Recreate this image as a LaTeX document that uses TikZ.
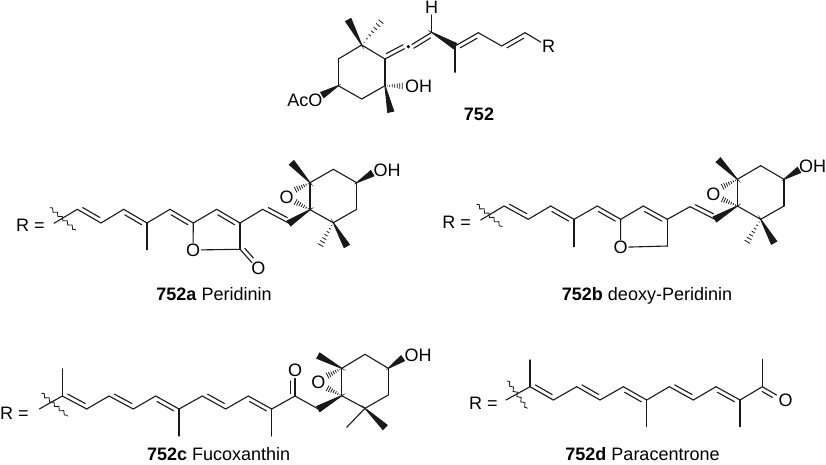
\documentclass[tikz,border=0pt]{standalone}
\usepackage{fontspec}
\setmainfont{Liberation Sans}
\usetikzlibrary{calc, decorations.pathmorphing}

\tikzset{
  atom/.style={inner sep=1pt,font=\fontsize{18}{21}\selectfont},
  lbl/.style={inner sep=0pt,anchor=base,font=\fontsize{18}{21}\selectfont},
  dot/.style={circle,fill=black,inner sep=1.3pt,outer sep=2.5pt},
  bond/.style={line width=1.1pt,line cap=round,color=black!90},
  dblL/.style={to path={(\tikztostart) -- (\tikztotarget)
    ($(\tikztostart)!.14!(\tikztotarget)!4.2pt!90:(\tikztotarget)$) --
    ($(\tikztotarget)!.14!(\tikztostart)!4.2pt!-90:(\tikztostart)$)}},
  dblR/.style={to path={(\tikztostart) -- (\tikztotarget)
    ($(\tikztostart)!.14!(\tikztotarget)!4.2pt!-90:(\tikztotarget)$) --
    ($(\tikztotarget)!.14!(\tikztostart)!4.2pt!90:(\tikztostart)$)}},
  wedge/.style={fill=black!90,to path={-- ($(\tikztotarget)!3pt!90:(\tikztostart)$)
    -- ($(\tikztotarget)!3pt!-90:(\tikztostart)$) -- cycle}},
  hash/.style={line width=.8pt,to path={foreach \pos in {.12,.26,...,1.0} {
    ($(\tikztostart)!\pos!(\tikztotarget)!\pos*3pt!90:(\tikztotarget)$) --
    ($(\tikztostart)!\pos!(\tikztotarget)!\pos*3pt!-90:(\tikztotarget)$)}}},
  wavy/.style={line width=.8pt,decorate,decoration={snake,amplitude=1.5pt,segment length=6.5pt}}
}

\begin{document}
\begin{tikzpicture}[x=1pt,y=-1pt]
\useasboundingbox (0,0) rectangle (826,464);

% 752
\coordinate (p1) at (361.7,45);
\coordinate (p2) at (338.3,59);
\coordinate (p3) at (338.3,85.7);
\coordinate (p4) at (361.7,99);
\coordinate (p5) at (385,85.7);
\coordinate (p6) at (385,59);
\coordinate (p7) at (348.3,20);
\coordinate (p8) at (381.7,20.7);
\coordinate (p9) at (431.7,32.3);
\coordinate (p10) at (455,46);
\coordinate (p11) at (455,72.3);
\coordinate (p12) at (478.3,32.7);
\coordinate (p13) at (501.7,46);
\coordinate (p14) at (525,32.7);
\coordinate (p15) at (390.7,111.7);
\coordinate (p16) at (322.3,95);
\coordinate (p17) at (403,86);
\node[dot] (pdot) at (408.3,46.7) {};
\node[atom] (pH) at (431.7,7.5) {H};
\node[atom] (pR) at (548.5,46.7) {R};
\node[atom,anchor=west,inner sep=0pt] (pOH) at (405,86.7) {OH};
\node[atom,anchor=east,inner sep=0pt] (pAcO) at (322.5,100) {AcO};
\node[lbl] (pname) at (479,120) {\textbf{752}};

\path[bond]
(p1) edge (p2) (p2) edge (p3) (p3) edge (p4) (p4) edge (p5) (p5) edge (p6) (p6) edge (p1)
(p1) edge[wedge] (p7)
(p1) edge[hash] (p8)
(p6) edge[dblL] (pdot)
(pdot) edge[dblR] (p9)
(p9) edge (pH)
(p9) edge[wedge] (p10)
(p10) edge (p11)
(p10) edge[dblR] (p12)
(p12) edge (p13)
(p13) edge[dblR] (p14)
(p14) edge (pR)
(p5) edge[hash] (p17)
(p5) edge[wedge] (p15)
(p3) edge[wedge] (p16)
;

% 752a
\coordinate (a1) at (54,223.3);
\coordinate (a2) at (77.3,209.3);
\coordinate (a3) at (101,223);
\coordinate (a4) at (123.7,209.3);
\coordinate (a5) at (147,223);
\coordinate (a6) at (147,249.7);
\coordinate (a7) at (170,209.3);
\coordinate (a8) at (193.3,223);
\coordinate (a9) at (216.7,209.3);
\coordinate (a10) at (240,223);
\coordinate (a11) at (240,249.3);
\coordinate (a12) at (252,262.7);
\coordinate (a13) at (262.7,209.3);
\coordinate (a14) at (289,223.3);
\coordinate (a15) at (310,209.7);
\coordinate (a16) at (310,182.7);
\coordinate (a17) at (291.7,162.7);
\coordinate (a18) at (333.3,169.3);
\coordinate (a19) at (356.7,182.7);
\coordinate (a20) at (356.7,209.3);
\coordinate (a21) at (333.3,222.7);
\coordinate (a22) at (346.7,246);
\coordinate (a23) at (320,246);
\coordinate (a24) at (372.3,173.3);
\coordinate (a25) at (295,190);
\coordinate (a26) at (295,201.7);
\coordinate (aw1) at (50,207.7);
\coordinate (aw2) at (75.7,230);
\node[atom] (aR) at (30.5,225.7) {R =};
\node[atom] (aO1) at (193,250) {O};
\node[atom] (aO2) at (258.3,268.3) {O};
\node[atom] (aO3) at (286.7,197.3) {O};
\node[atom,anchor=west,inner sep=0pt] (aOH) at (373.3,170) {OH};
\node[lbl] (aname) at (214,300.7) {\textbf{752a} Peridinin};

\path[bond]
(a1) edge (a2)
(aw1) edge[wavy] (aw2)
(a2) edge[dblL] (a3)
(a3) edge (a4)
(a4) edge[dblR] (a5)
(a5) edge (a6)
(a5) edge (a7)
(a7) edge[dblR] (a8)
(a8) edge (aO1)
(aO1) edge (a11)
(a8) edge (a9)
(a9) edge[dblR] (a10)
(a10) edge (a11)
(a11) edge[dblL] (a12)
(a10) edge (a13)
(a13) edge[dblL] (a14)
(a15) edge[wedge] (a14)
(a15) edge (a16)
(a16) edge[wedge] (a17)
(a16) edge (a18) (a18) edge (a19) (a19) edge (a20) (a20) edge (a21) (a21) edge (a15)
(a21) edge[wedge] (a22)
(a21) edge[hash] (a23)
(a19) edge[wedge] (a24)
(a16) edge[hash] (a25)
(a15) edge[hash] (a26)
;

% 752b
\coordinate (b1) at (480.7,220);
\coordinate (b2) at (504,206);
\coordinate (b3) at (528.3,219.3);
\coordinate (b4) at (550.7,206);
\coordinate (b5) at (574,219.3);
\coordinate (b6) at (574,246.7);
\coordinate (b7) at (597.3,206);
\coordinate (b8) at (620.7,219.3);
\coordinate (b9) at (643.3,206);
\coordinate (b10) at (667.3,219.3);
\coordinate (b11) at (667.3,246);
\coordinate (b12) at (690,206.7);
\coordinate (b13) at (715,219.3);
\coordinate (b14) at (737.3,206);
\coordinate (b15) at (737.3,179.3);
\coordinate (b16) at (718.3,160);
\coordinate (b17) at (760.7,165.7);
\coordinate (b18) at (784,179.3);
\coordinate (b19) at (784,206);
\coordinate (b20) at (760.7,219.3);
\coordinate (b21) at (774,242.7);
\coordinate (b22) at (746.7,242.7);
\coordinate (b23) at (799,170);
\coordinate (b24) at (722,187);
\coordinate (b25) at (722,199);
\coordinate (bw1) at (476.7,204.3);
\coordinate (bw2) at (502.3,226.7);
\node[atom] (bR) at (456.7,222.3) {R =};
\node[atom] (bO1) at (620.5,247.3) {O};
\node[atom] (bO2) at (713.3,194) {O};
\node[atom,anchor=west,inner sep=0pt] (bOH) at (798.8,166.7) {OH};
\node[lbl] (bname) at (647,300.7) {\textbf{752b} deoxy-Peridinin};

\path[bond]
(b1) edge (b2)
(bw1) edge[wavy] (bw2)
(b2) edge[dblL] (b3)
(b3) edge (b4)
(b4) edge[dblR] (b5)
(b5) edge (b6)
(b5) edge (b7)
(b7) edge[dblR] (b8)
(b8) edge (bO1)
(b8) edge (b9)
(b9) edge[dblR] (b10)
(b10) edge (b11)
(b11) edge (bO1)
(b10) edge (b12)
(b12) edge[dblL] (b13)
(b14) edge[wedge] (b13)
(b14) edge (b15)
(b15) edge[wedge] (b16)
(b15) edge (b17) (b17) edge (b18) (b18) edge (b19) (b19) edge (b20) (b20) edge (b14)
(b20) edge[wedge] (b21)
(b20) edge[hash] (b22)
(b18) edge[wedge] (b23)
(b15) edge[hash] (b24)
(b14) edge[hash] (b25)
;

% 752c
\coordinate (c1) at (39.3,409);
\coordinate (c2) at (62.3,396);
\coordinate (c3) at (62.3,369);
\coordinate (c4) at (86.7,409);
\coordinate (c5) at (109,396);
\coordinate (c6) at (133.3,409);
\coordinate (c7) at (155.7,396);
\coordinate (c8) at (179,409);
\coordinate (c9) at (179,436);
\coordinate (c10) at (202.3,396);
\coordinate (c11) at (225.7,409);
\coordinate (c12) at (248.3,396);
\coordinate (c13) at (271.7,409);
\coordinate (c14) at (271.7,436);
\coordinate (c15) at (295,396);
\coordinate (c16) at (295,378.5);
\coordinate (c17) at (318.3,409);
\coordinate (c18) at (341.7,395.7);
\coordinate (c19) at (341.7,368.3);
\coordinate (c20) at (318.3,355.7);
\coordinate (c21) at (365,354.3);
\coordinate (c22) at (388.3,368.3);
\coordinate (c23) at (388.3,395);
\coordinate (c24) at (365,408.3);
\coordinate (c25) at (346.7,427.3);
\coordinate (c26) at (385,427.3);
\coordinate (c27) at (402.7,358.3);
\coordinate (c28) at (327,376);
\coordinate (c29) at (327,388);
\coordinate (cw1) at (41.7,393.3);
\coordinate (cw2) at (67.7,416);
\node[atom,anchor=west,inner sep=0pt] (cR) at (0,413) {R =};
\node[atom] (cO1) at (295,370) {O};
\node[atom] (cO2) at (318.3,382.7) {O};
\node[atom,anchor=west,inner sep=0pt] (cOH) at (404.3,355) {OH};
\node[lbl] (cname) at (218.7,460.5) {\textbf{752c} Fucoxanthin};

\path[bond]
(c1) edge (c2)
(cw1) edge[wavy] (cw2)
(c2) edge (c3)
(c2) edge[dblL] (c4)
(c4) edge (c5)
(c5) edge[dblL] (c6)
(c6) edge (c7)
(c7) edge[dblR] (c8)
(c8) edge (c9)
(c8) edge (c10)
(c10) edge[dblL] (c11)
(c11) edge (c12)
(c12) edge[dblR] (c13)
(c13) edge (c14)
(c13) edge (c15)
(c15) edge[dblL] (c16)
(c15) edge (c17)
(c18) edge[wedge] (c17)
(c18) edge (c19)
(c19) edge[wedge] (c20)
(c19) edge (c21) (c21) edge (c22) (c22) edge (c23) (c23) edge (c24) (c24) edge (c18)
(c24) edge (c25)
(c24) edge[wedge] (c26)
(c22) edge[wedge] (c27)
(c19) edge[hash] (c28)
(c18) edge[hash] (c29)
;

% 752d
\coordinate (d1) at (506,400);
\coordinate (d2) at (530,386.7);
\coordinate (d3) at (530,360);
\coordinate (d4) at (553.3,400);
\coordinate (d5) at (576.7,386.7);
\coordinate (d6) at (600,400);
\coordinate (d7) at (623.3,386.7);
\coordinate (d8) at (646.7,400);
\coordinate (d9) at (646.7,426.7);
\coordinate (d10) at (669.3,386.7);
\coordinate (d11) at (693.3,400);
\coordinate (d12) at (716,386.7);
\coordinate (d13) at (740,400);
\coordinate (d14) at (740,426.7);
\coordinate (d15) at (762.3,386.7);
\coordinate (d16) at (762.3,359.3);
\coordinate (d17) at (776.5,395);
\coordinate (dw1) at (507.3,381);
\coordinate (dw2) at (527.3,408.3);
\node[atom] (dR) at (483.3,403.3) {R =};
\node[atom] (dO) at (785.7,400) {O};
\node[lbl] (dname) at (642.5,460.5) {\textbf{752d} Paracentrone};

\path[bond]
(d1) edge (d2)
(dw1) edge[wavy] (dw2)
(d2) edge (d3)
(d2) edge[dblL] (d4)
(d4) edge (d5)
(d5) edge[dblL] (d6)
(d6) edge (d7)
(d7) edge[dblR] (d8)
(d8) edge (d9)
(d8) edge (d10)
(d10) edge[dblL] (d11)
(d11) edge (d12)
(d12) edge[dblR] (d13)
(d13) edge (d14)
(d13) edge (d15)
(d15) edge (d16)
(d15) edge[dblR] (d17)
;

\end{tikzpicture}
\end{document}
